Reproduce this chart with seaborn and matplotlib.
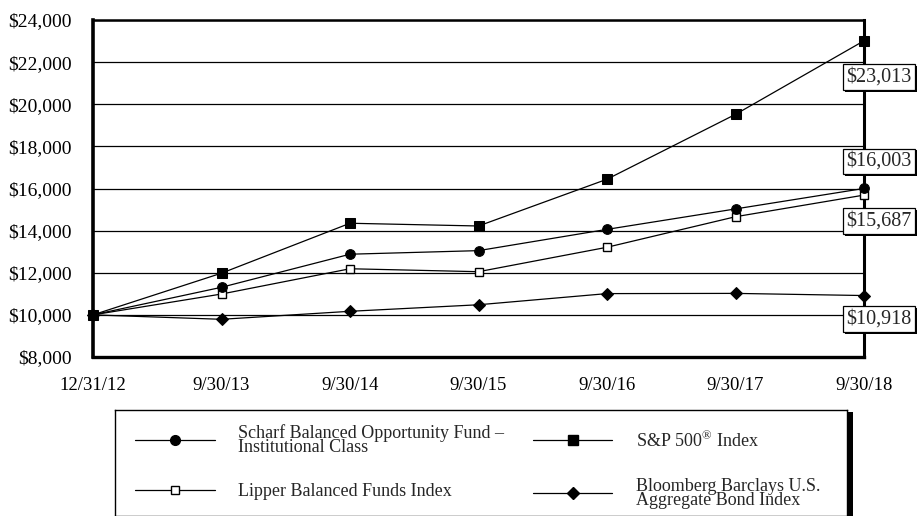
import matplotlib
matplotlib.use("Agg")
import matplotlib.pyplot as plt
import matplotlib.patheffects as pe
from matplotlib.lines import Line2D
import seaborn as sns
import pandas as pd

# Growth of a $10,000 investment
dates = ["12/31/12", "9/30/13", "9/30/14", "9/30/15", "9/30/16", "9/30/17", "9/30/18"]
scharf = [10000, 11310, 12880, 13050, 14060, 15030, 16003]
sp500 = [10000, 11980, 14350, 14220, 16440, 19520, 23013]
lipper = [10000, 10990, 12190, 12050, 13210, 14660, 15687]
bond = [10000, 9790, 10170, 10480, 11010, 11020, 10918]

names = [
    "Scharf Balanced Opportunity Fund –\nInstitutional Class",
    "Lipper Balanced Funds Index",
    "S&P 500$^{®}$ Index",
    "Bloomberg Barclays U.S.\nAggregate Bond Index",
]
yticks = [8000, 10000, 12000, 14000, 16000, 18000, 20000, 22000, 24000]

sns.set_theme(style="white")
plt.rcParams["font.family"] = ["Liberation Serif", "DejaVu Serif"]
plt.rcParams["mathtext.fontset"] = "custom"
plt.rcParams["mathtext.rm"] = "Liberation Serif"

df = pd.DataFrame({"pos": range(len(dates)), "scharf": scharf, "sp500": sp500,
                   "lipper": lipper, "bond": bond})

W, H = 917, 516
fig = plt.figure(figsize=(W / 100, H / 100), dpi=100)
ax = fig.add_axes([93 / W, 1 - 357 / H, 771 / W, 337 / H])

ax.set_ylim(8000, 24000)
ax.set_xlim(0, len(dates) - 1)
ax.set_yticks(yticks)
ax.set_yticklabels([f"${v:,}" for v in yticks])
ax.set_xticks(range(len(dates)))
ax.set_xticklabels(dates)
ax.grid(axis="y", color="black", linewidth=0.9)
ax.set_axisbelow(True)

styles = {
    "scharf": dict(marker="o", markersize=7, markerfacecolor="black", markeredgecolor="black"),
    "lipper": dict(marker="s", markersize=5.5, markerfacecolor="white", markeredgecolor="black", markeredgewidth=1),
    "sp500": dict(marker="s", markersize=7.5, markerfacecolor="black", markeredgecolor="black"),
    "bond": dict(marker="D", markersize=6, markerfacecolor="black", markeredgecolor="black"),
}
for key in ["bond", "lipper", "scharf", "sp500"]:
    sns.lineplot(data=df, x="pos", y=key, ax=ax, color="black", linewidth=0.9,
                 clip_on=False, zorder=4, **styles[key])
ax.set_xlabel("")
ax.set_ylabel("")

ax.tick_params(axis="both", which="both", direction="out", length=11.5, width=0.9,
               color="black", labelcolor="black")
ax.tick_params(axis="y", pad=3.5, labelsize=14)
ax.tick_params(axis="x", pad=3, labelsize=13.5)

for side, lw in {"left": 2.6, "bottom": 2.4, "top": 1.8, "right": 2.2}.items():
    ax.spines[side].set_visible(True)
    ax.spines[side].set_color("black")
    ax.spines[side].set_linewidth(lw)

# End-value call-outs
callouts = [(sp500[-1], -36), (scharf[-1], 27), (lipper[-1], -26), (bond[-1], -23.5)]
for val, dy in callouts:
    t = ax.annotate(f"${val:,}", xy=(len(dates) - 1, val), xycoords="data",
                    xytext=(15 * 0.72, dy * 0.72), textcoords="offset points",
                    ha="center", va="center", fontsize=14.5, zorder=6, annotation_clip=False,
                    bbox=dict(boxstyle="square,pad=0.17", fc="white", ec="black", lw=0.9))
    t.get_bbox_patch().set_path_effects([
        pe.SimplePatchShadow(offset=(1.3, -1.3), shadow_rgbFace="black", alpha=1.0),
        pe.Normal()])

# Legend panel
lax = fig.add_axes([115 / W, 0.0, 732 / W, (H - 410) / H])
lax.set_xticks([])
lax.set_yticks([])
lax.set_facecolor("white")
for s in lax.spines.values():
    s.set_visible(True)
    s.set_color("black")
    s.set_linewidth(1.0)
lax.patch.set_path_effects([
    pe.SimplePatchShadow(offset=(4, -1.5), shadow_rgbFace="black", alpha=1.0),
    pe.Normal()])

keys = ["scharf", "lipper", "sp500", "bond"]
handles = [Line2D([], [], color="black", linewidth=0.9, **styles[k]) for k in keys]
leg = lax.legend(handles, names, loc="center left", bbox_to_anchor=(13 / 732, 0.467),
                 ncol=2, frameon=False, fontsize=13, handlelength=4.4,
                 handletextpad=1.3, columnspacing=1.6, labelspacing=1.5,
                 borderaxespad=0)
for txt in leg.get_texts():
    txt.set_linespacing(0.75)

fig.savefig("out.png", dpi=100, facecolor="white")
